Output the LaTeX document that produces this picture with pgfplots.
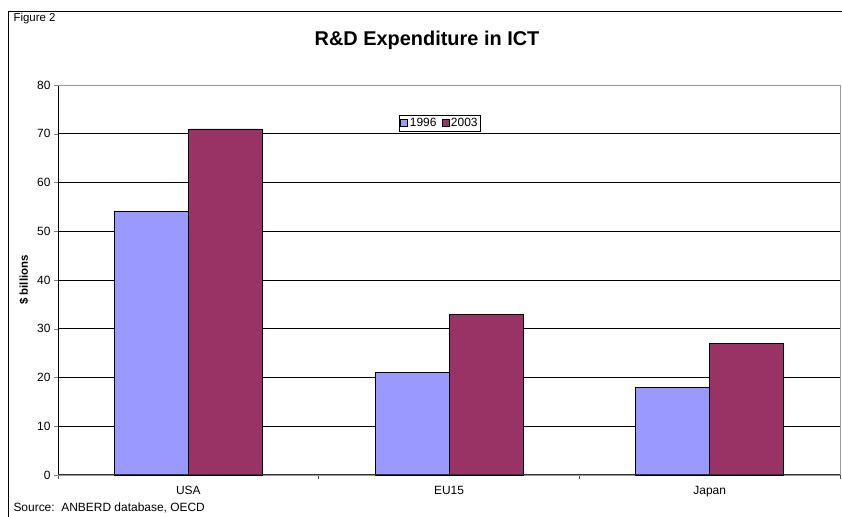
\documentclass[border=0pt]{standalone}
\usepackage{pgfplots}
\pgfplotsset{compat=1.18}
\usepackage{fontspec}
\setmainfont{Liberation Sans}
\definecolor{c96}{HTML}{9999FF}
\definecolor{c03}{HTML}{993366}
\begin{document}
\begin{tikzpicture}[x=1bp,y=1bp]
\path[use as bounding box] (0,0) rectangle (842,517);
\draw[line width=0.8bp] (8,0) -- (8,506) -- (842,506);
\node[anchor=west,font=\fontsize{11.5}{13}\selectfont] at (10,498) {Figure 2};
\node[font=\fontsize{20}{22}\selectfont\bfseries] at (427,477) {R\&D Expenditure in ICT};
\node[anchor=west,font=\fontsize{12}{13}\selectfont] at (10,9) {Source:\ \ ANBERD database, OECD};
\begin{axis}[
  at={(58bp,42bp)}, anchor=south west,
  scale only axis, width=782bp, height=390bp,
  xmin=-0.5, xmax=2.5, ymin=0, ymax=80,
  ybar=0pt, bar width=74bp,
  xtick={0,1,2}, xticklabels={USA,EU15,Japan},
  major x tick style={draw=none},
  minor xtick={-0.5,0.5,1.5,2.5},
  minor x tick style={black!70, line width=0.6pt},
  minor tick length=4bp,
  ytick={0,10,...,80},
  ymajorgrids, grid style={black, line width=0.5pt},
  major tick length=4bp,
  tick align=outside,
  xtick pos=bottom, ytick pos=left,
  axis line style={gray!80, line width=0.8pt},
  axis x line*=bottom,
  tick label style={font=\fontsize{12}{13}\selectfont},
  x tick label style={yshift=-4bp},
  /pgf/number format/assume math mode=true,
  ylabel={\bfseries \$ billions},
  every axis y label/.style={at={(axis description cs:-0.0435,0.5)}, rotate=90, anchor=center, font=\fontsize{11.5}{13}\selectfont},
  legend style={at={(axis description cs:0.4885,0.9026)}, anchor=center, legend columns=2,
    draw=black, line width=0.5pt, font=\fontsize{12}{13}\selectfont,
    inner sep=1pt, /tikz/every even column/.append style={column sep=3pt}},
  legend image code/.code={\draw[#1, line width=0.5pt] (0bp,-3.5bp) rectangle (7bp,3.5bp);},
  clip=false
]
\addplot[fill=c96, draw=black, line width=0.6pt] coordinates {(0,54) (1,21) (2,18)};
\addplot[fill=c03, draw=black, line width=0.6pt] coordinates {(0,71) (1,33) (2,27)};
\legend{1996,2003}
\draw[black, line width=0.8pt] (axis cs:-0.5,0) -- (axis cs:-0.5,80);
\draw[gray!80, line width=0.8pt] (axis cs:-0.5,80) -- (axis cs:2.5,80) -- (axis cs:2.5,0);
\draw[black!80, line width=1pt] (axis cs:-0.5,0) -- (axis cs:2.5,0);
\end{axis}
\end{tikzpicture}
\end{document}
